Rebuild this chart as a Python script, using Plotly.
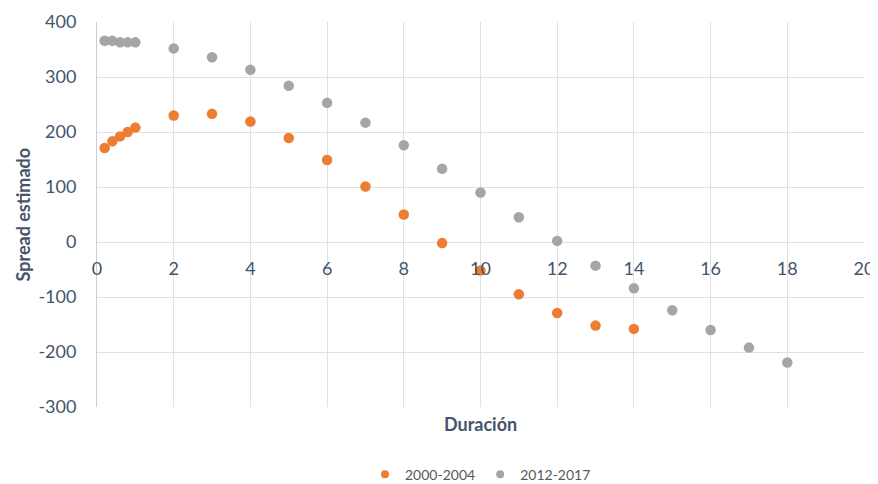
import plotly.graph_objects as go

x_2000 = [0.2, 0.4, 0.6, 0.8, 1.0, 2, 3, 4, 5, 6, 7, 8, 9, 10, 11, 12, 13, 14]
y_2000 = [171, 183, 192, 200, 208, 230, 233, 219, 189, 149, 101, 50, -2, -52, -95, -129, -152, -158]

x_2012 = [0.2, 0.4, 0.6, 0.8, 1.0, 2, 3, 4, 5, 6, 7, 8, 9, 10, 11, 12, 13, 14, 15, 16, 17, 18]
y_2012 = [366, 366, 363, 363, 363, 352, 336, 313, 284, 253, 217, 176, 133, 90, 45, 2, -43, -84, -124, -160, -192, -219]

series_names = ["2000-2004", "2012-2017"]
series_colors = ["#ED7D31", "#A5A5A5"]
x_ticks = [0, 2, 4, 6, 8, 10, 12, 14, 16, 18, 20]
y_ticks = [-300, -200, -100, 0, 100, 200, 300, 400]

FONT = "Lato"
TXT = "#44546A"
GRID = "#DDE1E8"

fig = go.Figure()
for xs, ys, nm, col in [(x_2000, y_2000, series_names[0], series_colors[0]),
                        (x_2012, y_2012, series_names[1], series_colors[1])]:
    fig.add_trace(go.Scatter(x=xs, y=ys, mode="markers", name=nm, showlegend=False,
                             legendgroup=nm, marker=dict(color=col, size=10.5)))
for nm, col in zip(series_names, series_colors):
    fig.add_trace(go.Scatter(x=[None], y=[None], mode="markers", name=nm, legendgroup=nm,
                             marker=dict(color=col, size=8)))

# page body has an 8px default margin, so the figure is sized to fit inside it
fig.update_layout(
    width=870, height=476,
    margin=dict(l=89, r=14, t=14, b=77, autoexpand=False),
    paper_bgcolor="white", plot_bgcolor="white",
    font=dict(family=FONT, color=TXT, size=18),
    showlegend=True,
    legend=dict(orientation="h", x=0.5, xanchor="center", y=-0.176, yanchor="middle",
                font=dict(size=14, color="#595959", family=FONT), itemwidth=30,
                tracegroupgap=0),
    xaxis=dict(range=[0, 20], tickvals=x_ticks, ticktext=[str(v) for v in x_ticks],
               showgrid=True, gridcolor=GRID, gridwidth=1, zeroline=False,
               showline=False, anchor="free", position=3/7, automargin=False,
               ticks="", ticklabelstandoff=14,
               tickfont=dict(size=18, color=TXT, family=FONT)),
    yaxis=dict(range=[-300, 400], tickvals=y_ticks, ticktext=[str(v) for v in y_ticks],
               showgrid=True, gridcolor=GRID, gridwidth=1, zeroline=False,
               showline=True, linecolor="#C9CED6", linewidth=1, automargin=False,
               ticks="", ticklabelstandoff=16,
               tickfont=dict(size=18, color=TXT, family=FONT)),
    annotations=[
        dict(text="<b>Duración</b>", xref="paper", yref="paper", x=0.5, y=-0.044,
             xanchor="center", yanchor="middle", showarrow=False,
             font=dict(size=18, color=TXT, family=FONT)),
        dict(text="<b>Spread estimado</b>", xref="paper", yref="paper", x=0, y=0.5,
             xshift=-75, xanchor="center", yanchor="middle", textangle=-90, showarrow=False,
             font=dict(size=18, color=TXT, family=FONT)),
    ],
)

fig.write_html("out.html")
